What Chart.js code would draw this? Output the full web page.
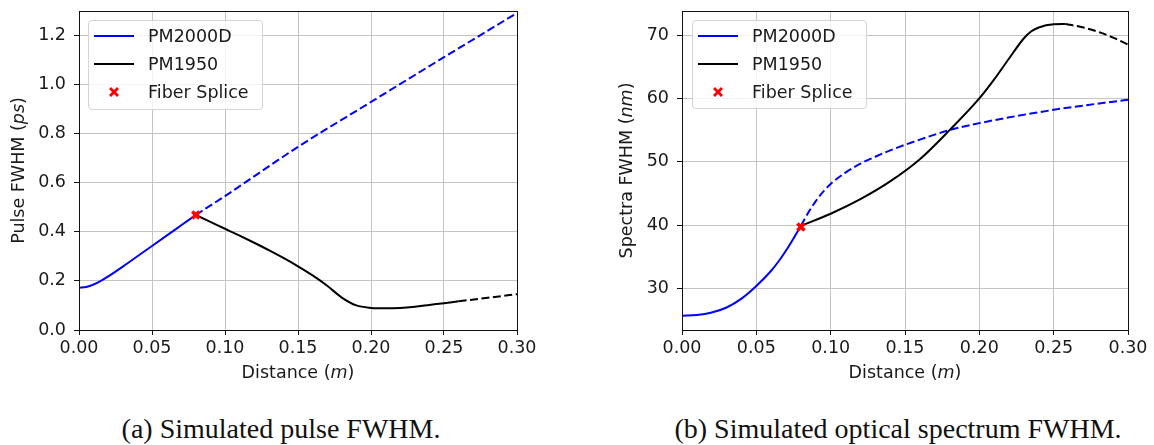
<!DOCTYPE html>
<html>
<head>
<meta charset="utf-8">
<script src="https://cdn.jsdelivr.net/npm/chart.js@4.4.1/dist/chart.umd.min.js"></script>
<style>
  body { margin: 0; background: #fff; font-family: "DejaVu Sans", sans-serif; }
  #wrap { position: relative; width: 1154px; height: 445px; overflow: hidden; }
  .panel { position: absolute; top: 0; height: 400px; }
  .legend { position: absolute; border: 1px solid #d4d4d4; border-radius: 4px; background: rgba(255,255,255,0.8); box-sizing: border-box; }
  .item { position: absolute; left: 0; width: 100%; height: 28px; }
  .sample { position: absolute; left: 5px; width: 40px; top: 14px; height: 2px; }
  .label { position: absolute; left: 59px; top: 3px; font-size: 17.5px; line-height: 24px; color: #1a1a1a; white-space: nowrap; }
  .caption { position: absolute; top: 415px; font-family: "Liberation Serif", serif; font-size: 28px; line-height: 28px; color: #111; white-space: nowrap; transform: translateX(-50%); }
</style>
</head>
<body>
<div id="wrap">
  <div class="panel" style="left:0; width:539px;"><canvas id="pulseChart" width="539" height="400"></canvas></div>
  <div class="panel" style="left:600px; width:550px;"><canvas id="spectraChart" width="550" height="400"></canvas></div>
  <div class="caption" style="left:281px;">(a) Simulated pulse FWHM.</div>
  <div class="caption" style="left:898px;">(b) Simulated optical spectrum FWHM.</div>
</div>
<script>
// Legend names
const legendLabels = ["PM2000D", "PM1950", "Fiber Splice"];

// (a) pulse FWHM (ps) vs distance (m)
const pulseBlueDist = [0, 0.005, 0.01, 0.015, 0.02, 0.03, 0.04, 0.05, 0.06, 0.07, 0.08];
const pulseBlueVals = [0.172, 0.175, 0.185, 0.2, 0.218, 0.258, 0.3, 0.342, 0.384, 0.426, 0.468];
const pulseBlueDashDist = [0.08, 0.10, 0.15, 0.20, 0.25, 0.30];
const pulseBlueDashVals = [0.468, 0.545, 0.745, 0.928, 1.11, 1.29];
const pulseBlackDist = [0.08, 0.09, 0.10, 0.11, 0.12, 0.13, 0.14, 0.15, 0.16, 0.17, 0.18, 0.19, 0.20, 0.21, 0.22, 0.23, 0.24, 0.25, 0.26];
const pulseBlackVals = [0.468, 0.44, 0.412, 0.384, 0.355, 0.325, 0.293, 0.259, 0.222, 0.18, 0.132, 0.1, 0.09, 0.088, 0.09, 0.095, 0.102, 0.109, 0.117];
const pulseBlackDashDist = [0.26, 0.28, 0.30];
const pulseBlackDashVals = [0.117, 0.131, 0.146];
const pulseSplice = [0.08, 0.468];

// (b) spectra FWHM (nm) vs distance (m)
const specBlueDist = [0, 0.01, 0.02, 0.03, 0.04, 0.05, 0.06, 0.065, 0.07, 0.075, 0.08];
const specBlueVals = [25.7, 25.8, 26.2, 27.0, 28.4, 30.4, 32.8, 34.3, 36.0, 37.9, 39.9];
const specBlueDashDist = [0.08, 0.085, 0.09, 0.095, 0.10, 0.11, 0.12, 0.13, 0.14, 0.16, 0.18, 0.20, 0.25, 0.30];
const specBlueDashVals = [39.9, 42.0, 43.8, 45.3, 46.5, 48.3, 49.7, 50.8, 51.8, 53.5, 55.0, 56.1, 58.2, 59.8];
const specBlackDist = [0.08, 0.10, 0.12, 0.14, 0.16, 0.18, 0.20, 0.21, 0.22, 0.23, 0.235, 0.24, 0.25, 0.258];
const specBlackVals = [39.9, 41.8, 44.1, 46.9, 50.4, 55.0, 60.0, 63.0, 66.3, 69.5, 70.6, 71.2, 71.7, 71.75];
const specBlackDashDist = [0.258, 0.27, 0.28, 0.29, 0.30];
const specBlackDashVals = [71.75, 71.2, 70.5, 69.6, 68.5];
const specSplice = [0.08, 39.7];

const FONT = "DejaVu Sans";
const FS = 17.5;
Chart.defaults.font.family = FONT;
Chart.defaults.font.size = FS;
Chart.defaults.color = "#1a1a1a";

function pts(xs, ys) {
    return xs.map((x, i) => ({ x: x, y: ys[i] }));
}

function lineSet(xs, ys, color, dashed) {
    return {
        data: pts(xs, ys),
        borderColor: color,
        borderWidth: 2,
        borderDash: dashed ? [8, 3.5] : [],
        pointRadius: 0,
        cubicInterpolationMode: "monotone",
        fill: false
    };
}

function spliceSet(p) {
    return {
        data: [{ x: p[0], y: p[1] }],
        showLine: false,
        pointStyle: "crossRot",
        pointRadius: 5,
        borderColor: "#ff0000",
        backgroundColor: "#ff0000",
        pointBorderWidth: 3.5
    };
}

// draws text made of normal and italic parts, centred at (cx, cy)
function drawParts(ctx, parts, cx, cy, rotate) {
    ctx.save();
    ctx.translate(cx, cy);
    if (rotate) ctx.rotate(-Math.PI / 2);
    ctx.textBaseline = "middle";
    ctx.textAlign = "left";
    ctx.fillStyle = "#1a1a1a";
    let total = 0;
    parts.forEach(p => {
        ctx.font = (p[1] ? "italic " : "") + FS + "px '" + FONT + "'";
        total += ctx.measureText(p[0]).width;
    });
    let x = -total / 2;
    parts.forEach(p => {
        ctx.font = (p[1] ? "italic " : "") + FS + "px '" + FONT + "'";
        ctx.fillText(p[0], x, 0);
        x += ctx.measureText(p[0]).width;
    });
    ctx.restore();
}

function framePlugin(yTitle, yTitleX) {
    return {
        id: "frame",
        afterDraw(chart) {
            const ctx = chart.ctx;
            const a = chart.chartArea;
            ctx.save();
            ctx.strokeStyle = "#111";
            ctx.lineWidth = 1;
            ctx.strokeRect(Math.round(a.left) + 0.5, Math.round(a.top) + 0.5, Math.round(a.right - a.left), Math.round(a.bottom - a.top));
            ctx.restore();
            drawParts(ctx, [["Distance (", false], ["m", true], [")", false]], (a.left + a.right) / 2, 373, false);
            drawParts(ctx, yTitle, yTitleX, (a.top + a.bottom) / 2, true);
        }
    };
}

function makeChart(id, datasets, yOpts, yAxisWidth, yTitle, yTitleX) {
    return new Chart(document.getElementById(id), {
        type: "line",
        data: { datasets: datasets },
        options: {
            responsive: false,
            animation: false,
            layout: { padding: { top: 11, right: 22, left: 0, bottom: 0 } },
            plugins: { legend: { display: false }, tooltip: { enabled: false } },
            scales: {
                x: {
                    type: "linear",
                    min: 0,
                    max: 0.3,
                    afterFit: s => { s.height = 70; s.paddingLeft = 0; s.paddingRight = 0; },
                    ticks: { stepSize: 0.05, padding: 3, includeBounds: false, callback: v => v.toFixed(2) },
                    grid: { color: "#c4c4c4", lineWidth: 1, tickLength: 5, tickColor: "#111" },
                    border: { display: false }
                },
                y: Object.assign({
                    type: "linear",
                    afterFit: s => { s.width = yAxisWidth; s.paddingTop = 0; s.paddingBottom = 0; },
                    grid: { color: "#c4c4c4", lineWidth: 1, tickLength: 5, tickColor: "#111" },
                    border: { display: false }
                }, yOpts)
            }
        },
        plugins: [framePlugin(yTitle, yTitleX)]
    });
}

function makeLegend(left, top, width, height) {
    const box = document.createElement("div");
    box.className = "legend";
    box.style.left = left + "px";
    box.style.top = top + "px";
    box.style.width = width + "px";
    box.style.height = height + "px";
    const colors = ["#0000ff", "#000000", null];
    legendLabels.forEach((name, i) => {
        const item = document.createElement("div");
        item.className = "item";
        item.style.top = (i * 28) + "px";
        if (colors[i]) {
            item.innerHTML = '<div class="sample" style="background:' + colors[i] + '"></div>';
        } else {
            item.innerHTML = '<svg style="position:absolute;left:19px;top:9px" width="12" height="12" viewBox="-6 -6 12 12">' +
                '<polygon fill="#ff0000" points="-5,-3 -3,-5 0,-2 3,-5 5,-3 2,0 5,3 3,5 0,2 -3,5 -5,3 -2,0"/></svg>';
        }
        item.innerHTML += '<div class="label">' + name + '</div>';
        box.appendChild(item);
    });
    document.getElementById("wrap").appendChild(box);
}

makeChart("pulseChart", [
    spliceSet(pulseSplice),
    lineSet(pulseBlackDist, pulseBlackVals, "#000000", false),
    lineSet(pulseBlackDashDist, pulseBlackDashVals, "#000000", true),
    lineSet(pulseBlueDist, pulseBlueVals, "#0000ff", false),
    lineSet(pulseBlueDashDist, pulseBlueDashVals, "#0000ff", true)
], {
    min: 0,
    max: 1.298,
    ticks: { stepSize: 0.2, padding: 8, includeBounds: false, callback: v => v.toFixed(1) }
}, 79, [["Pulse FWHM (", false], ["ps", true], [")", false]], 19);

makeChart("spectraChart", [
    spliceSet(specSplice),
    lineSet(specBlackDist, specBlackVals, "#000000", false),
    lineSet(specBlackDashDist, specBlackDashVals, "#000000", true),
    lineSet(specBlueDist, specBlueVals, "#0000ff", false),
    lineSet(specBlueDashDist, specBlueDashVals, "#0000ff", true)
], {
    min: 23.45,
    max: 73.8,
    ticks: { stepSize: 10, padding: 8, includeBounds: false, callback: v => v.toFixed(0) }
}, 82, [["Spectra FWHM (", false], ["nm", true], [")", false]], 27);

makeLegend(88, 20, 175, 90);
makeLegend(692, 20, 175, 89);
</script>
</body>
</html>
